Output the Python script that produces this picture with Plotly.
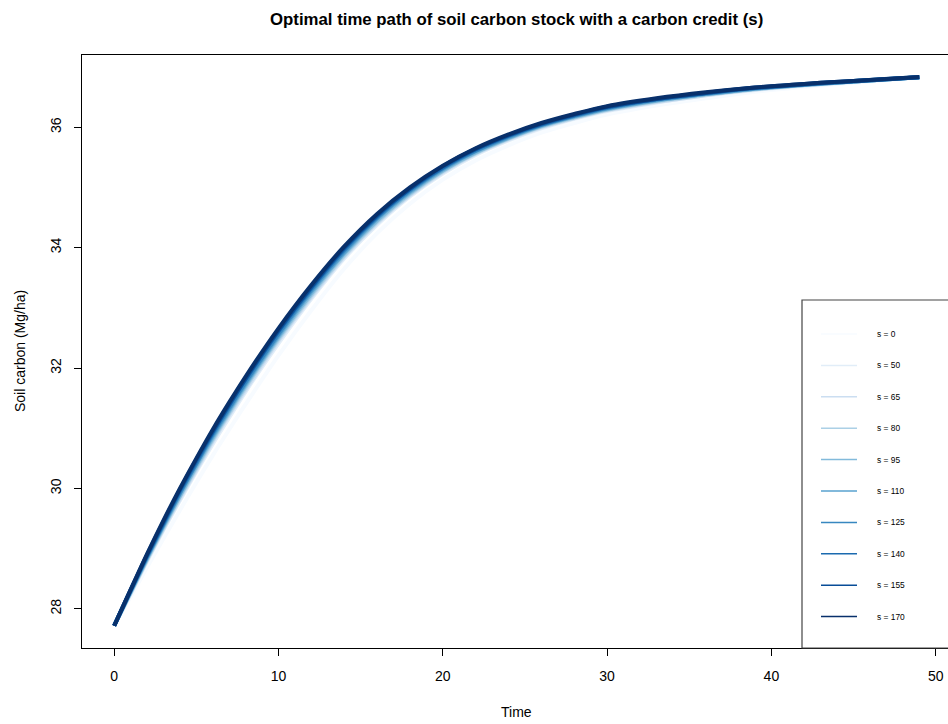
import plotly.graph_objects as go

# ---- data ----
time = [0, 1, 2, 3, 4, 5, 6, 7, 8, 10, 12, 14, 16, 18, 20, 22, 24, 26, 28, 30, 33, 36, 39, 42, 45, 49]

s_values = [0, 50, 65, 80, 95, 110, 125, 140, 155, 170]

c_s0 = [27.72, 28.20, 28.69, 29.17, 29.64, 30.10, 30.55, 30.98, 31.40, 32.21, 32.96, 33.65, 34.24,
        34.73, 35.13, 35.45, 35.70, 35.91, 36.07, 36.21, 36.36, 36.48, 36.59, 36.67, 36.74, 36.825]
c_s50 = [27.72, 28.25, 28.79, 29.31, 29.80, 30.28, 30.74, 31.18, 31.61, 32.41, 33.15, 33.82, 34.38,
         34.85, 35.23, 35.54, 35.78, 35.98, 36.14, 36.27, 36.41, 36.53, 36.62, 36.69, 36.75, 36.83]
c_s65 = [27.72, 28.26, 28.81, 29.33, 29.83, 30.31, 30.78, 31.22, 31.64, 32.45, 33.18, 33.85, 34.41,
         34.87, 35.25, 35.56, 35.80, 36.00, 36.15, 36.28, 36.42, 36.53, 36.63, 36.70, 36.76, 36.83]
c_s80 = [27.72, 28.27, 28.82, 29.35, 29.86, 30.34, 30.81, 31.25, 31.68, 32.48, 33.21, 33.87, 34.43,
         34.89, 35.27, 35.57, 35.81, 36.01, 36.16, 36.29, 36.43, 36.54, 36.63, 36.70, 36.76, 36.83]
c_s95 = [27.72, 28.28, 28.84, 29.37, 29.88, 30.37, 30.84, 31.28, 31.71, 32.51, 33.24, 33.90, 34.45,
         34.91, 35.28, 35.58, 35.82, 36.02, 36.17, 36.30, 36.44, 36.55, 36.64, 36.70, 36.76, 36.83]
c_s110 = [27.72, 28.29, 28.85, 29.39, 29.91, 30.40, 30.87, 31.31, 31.74, 32.54, 33.27, 33.92, 34.48,
          34.93, 35.30, 35.60, 35.83, 36.03, 36.18, 36.31, 36.45, 36.55, 36.64, 36.71, 36.76, 36.83]
c_s125 = [27.72, 28.30, 28.87, 29.41, 29.93, 30.42, 30.90, 31.34, 31.77, 32.57, 33.30, 33.95, 34.50,
          34.95, 35.32, 35.61, 35.85, 36.04, 36.19, 36.32, 36.46, 36.56, 36.65, 36.71, 36.76, 36.83]
c_s140 = [27.72, 28.31, 28.88, 29.43, 29.96, 30.45, 30.93, 31.38, 31.81, 32.61, 33.33, 33.98, 34.52,
          34.97, 35.33, 35.63, 35.86, 36.05, 36.20, 36.33, 36.47, 36.57, 36.65, 36.71, 36.77, 36.83]
c_s155 = [27.72, 28.31, 28.90, 29.45, 29.98, 30.48, 30.95, 31.40, 31.83, 32.63, 33.35, 34.00, 34.54,
          34.98, 35.35, 35.64, 35.87, 36.06, 36.21, 36.34, 36.47, 36.57, 36.66, 36.72, 36.77, 36.83]
c_s170 = [27.72, 28.32, 28.91, 29.47, 30.00, 30.50, 30.98, 31.43, 31.86, 32.66, 33.38, 34.02, 34.56,
          35.00, 35.36, 35.65, 35.88, 36.07, 36.22, 36.35, 36.48, 36.58, 36.66, 36.72, 36.77, 36.835]

series = [c_s0, c_s50, c_s65, c_s80, c_s95, c_s110, c_s125, c_s140, c_s155, c_s170]
labels = ["s = %d" % s for s in s_values]
colors = ["#F7FBFF", "#E1EDF8", "#CBDEF1", "#ABD0E6", "#82BADB",
          "#59A2CF", "#3787C0", "#1B6AAF", "#084D97", "#08306B"]

x_ticks = [0, 10, 20, 30, 40, 50]
y_ticks = [28, 30, 32, 34, 36]

# ---- geometry ----
W, H = 948, 724
L, R, T, B = 82, 0, 55, 76
pw, ph = W - L - R, H - T - B


def px(xp):
    return (xp - L) / pw


def py(yp):
    return (H - B - yp) / ph


fig = go.Figure()
for vals, lab, col in zip(series, labels, colors):
    fig.add_trace(go.Scatter(x=time, y=vals, mode="lines", name=lab,
                             line=dict(color=col, width=4, shape="spline"),
                             showlegend=False))

font = "Liberation Sans, Arial, Helvetica, sans-serif"

shapes = [dict(type="rect", xref="paper", yref="paper", x0=px(802), x1=px(960),
               y0=0, y1=py(300), line=dict(color="#444444", width=1.2),
               fillcolor="rgba(255,255,255,1)", layer="above")]
annotations = []
row_y = [334 + i * 31.4 for i in range(len(labels))]
for lab, col, ry in zip(labels, colors, row_y):
    shapes.append(dict(type="line", xref="paper", yref="paper",
                       x0=px(821), x1=px(857), y0=py(ry), y1=py(ry),
                       line=dict(color=col, width=1.5), layer="above"))
    annotations.append(dict(xref="paper", yref="paper", x=px(875), y=py(ry),
                            text=lab, showarrow=False, xanchor="left", yanchor="middle",
                            font=dict(size=8.4, color="#000000", family=font)))

annotations += [
    dict(xref="paper", yref="paper", x=px(516), y=py(20), showarrow=False,
         text="<b>Optimal time path of soil carbon stock with a carbon credit (s)</b>",
         xanchor="center", yanchor="middle", font=dict(size=16.8, color="#000", family=font)),
    dict(xref="paper", yref="paper", x=px(516), y=py(712), showarrow=False, text="Time",
         xanchor="center", yanchor="middle", font=dict(size=14, color="#000", family=font)),
    dict(xref="paper", yref="paper", x=px(20), y=py(351), showarrow=False,
         text="Soil carbon (Mg/ha)", textangle=-90,
         xanchor="center", yanchor="middle", font=dict(size=14, color="#000", family=font)),
]

x0 = -1.96
xscale = 16.43
fig.update_layout(
    width=W, height=H, margin=dict(l=L, r=R, t=T, b=B, pad=0),
    paper_bgcolor="white", plot_bgcolor="white",
    shapes=shapes, annotations=annotations,
    font=dict(family=font, size=14, color="#000"),
    xaxis=dict(range=[x0, x0 + pw / xscale], tickvals=x_ticks, ticks="outside", ticklen=7,
               tickcolor="#000", showline=True, linecolor="#000", linewidth=1, mirror=True,
               showgrid=False, zeroline=False, tickfont=dict(size=14, family=font),
               ticklabelstandoff=8),
    yaxis=dict(range=[27.35, 37.20], tickvals=y_ticks, ticks="outside", ticklen=7,
               tickcolor="#000", showline=True, linecolor="#000", linewidth=1, mirror=False,
               showgrid=False, zeroline=False, tickangle=-90,
               tickfont=dict(size=14, family=font), ticklabelstandoff=7),
)

fig.write_html("out.html")
